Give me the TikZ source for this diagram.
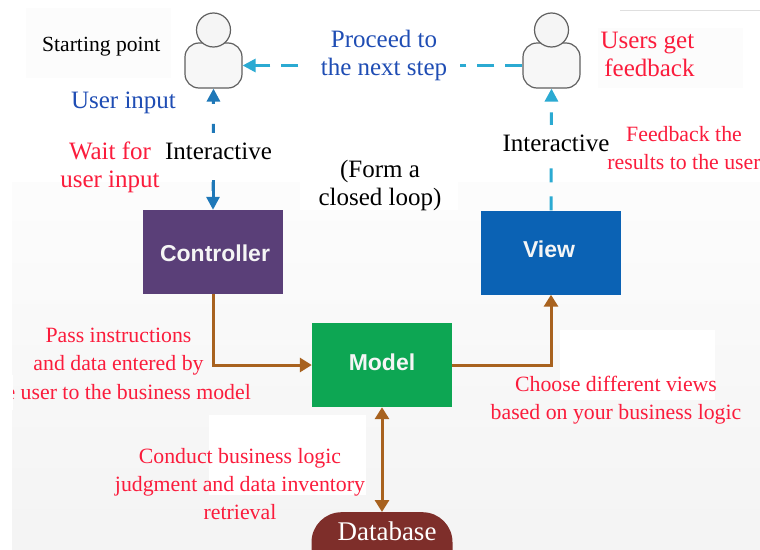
\documentclass[tikz,border=0pt]{standalone}
\usepackage{fontspec}
\setmainfont{Liberation Serif}
\setsansfont{Liberation Sans}
\usetikzlibrary{arrows.meta,positioning}
\definecolor{redtxt}{HTML}{FB1C3C}
\definecolor{bluetxt}{HTML}{1F4DB4}
\definecolor{brownln}{HTML}{A8621F}
\definecolor{tealln}{HTML}{2BAAD2}
\definecolor{blueln}{HTML}{1F78B8}
\definecolor{ctrlc}{HTML}{5A3F78}
\definecolor{viewc}{HTML}{0B62B4}
\definecolor{modelc}{HTML}{0DA653}
\definecolor{dbc}{HTML}{7E2E2A}
\tikzset{
  x=1pt,y=-1pt,
  lab/.style={font=\fontsize{25}{28}\selectfont,align=center,inner sep=0pt},
  labsm/.style={font=\fontsize{21.8}{28}\selectfont,align=center,inner sep=0pt},
  redlab/.style={text=redtxt},
  bluelab/.style={text=bluetxt},
  blocktitle/.style={font=\sffamily\bfseries\fontsize{23}{26}\selectfont,text=white!92!gray},
  mvc/.style={minimum width=140pt,minimum height=84pt,inner sep=0pt,draw=none},
  patch/.style={fill=white,draw=none},
  brownarrow/.style={draw=brownln,line width=3pt,-{Triangle[length=12pt,width=14pt]}},
  headc/.style={circle,minimum size=34pt,inner sep=0pt,draw=gray!75!black,line width=1.2pt,fill=gray!8},
  bodyc/.style={rounded corners=14pt,minimum width=57pt,minimum height=45pt,inner sep=0pt,draw=gray!75!black,line width=1.2pt,fill=gray!6},
  dashtl/.style={draw=tealln,line width=3pt,dash pattern=on 17pt off 11pt,-{Triangle[length=13pt,width=13pt]}},
  dashbl/.style={draw=blueln,line width=3pt,-{Triangle[length=13pt,width=13pt]}}
}
\begin{document}
\begin{tikzpicture}
\useasboundingbox (0,0) rectangle (760,549);
\fill[white] (0,0) rectangle (760,549);
\shade[top color=white!98!gray,bottom color=white!91!gray] (12,182) rectangle (760,549);
% lighter patches behind the labels
\fill[patch] (45,135) rectangle (300,182);
\fill[patch] (300,118) rectangle (458,210);
\fill[patch] (495,130) rectangle (760,176);
\fill[patch] (209,415) rectangle (366,495);
\fill[patch] (560,330) rectangle (715,400);
\fill[white!98!gray] (26,8) rectangle (171,78);
\fill[white!98!gray] (598,28) rectangle (743,88);
\draw[gray!25,line width=1pt] (620,10) -- (760,10);

% blocks
\node[mvc,fill=ctrlc] (ctrl) at (213,252) {};
\node[blocktitle] (ctrlt) at (215,253) {Controller};
\node[mvc,fill=viewc] (view) at (551,252.5) {};
\node[blocktitle] (viewt) at (549,249) {View};
\node[mvc,fill=modelc] (model) at (382,365) {};
\node[blocktitle] (modelt) at (382,362) {Model};
\node[minimum width=141pt,minimum height=76pt,rounded corners=30pt,inner sep=0pt,fill=dbc,anchor=north] (db) at (382,512) {};
\node[lab,text=white,font=\fontsize{27}{30}\selectfont,anchor=base] (dbt) at (387,540) {Database};

% users
\node[bodyc] (u1) at (213.5,65.5) {};
\node[headc] (h1) at (213.5,30) {};
\node[bodyc] (u2) at (551.5,65.5) {};
\node[headc] (h2) at (551.5,30) {};

% dashed connectors
\draw[dashtl] (u2.west) -- (u1.east);
\draw[dashtl,dash pattern=on 14pt off 14pt] (view.north) -- (u2.south);
\draw[dashbl,dash pattern=on 9pt off 20pt,dash phase=10pt] (ctrl.north) -- (u1.south);
\coordinate (cdown) at (213,180);
\draw[dashbl] (cdown) -- (ctrl.north);

% solid connectors
\coordinate (bendl) at (ctrl.south |- model.west);
\coordinate (bendr) at (view.south |- model.east);
\draw[brownarrow] (ctrl.south) -- (bendl) -- (model.west);
\draw[brownarrow] (model.east) -- (bendr) -- (view.south);
\draw[brownarrow,{Triangle[length=12pt,width=14pt]}-{Triangle[length=12pt,width=14pt]}] (model.south) -- (db.north);

% labels
\node[lab,anchor=west,font=\fontsize{21.6}{26}\selectfont] (start) at (42,47) {Starting point};
\node[lab,bluelab,fill=white,minimum width=152pt,minimum height=60pt] (proceed) at (384,55) {Proceed to\\the next step};
\node[lab,redlab,anchor=west] (getfb) at (600,54) {Users get\\\,feedback};
\node[lab,bluelab] (uinput) at (123.5,103) {User input};
\node[lab,redlab] (wait) at (110,167) {Wait for\\user input};
\node[lab,fill=white,inner xsep=3pt,minimum height=34pt] (int1) at (218.5,151) {Interactive};
\node[lab,fill=white,inner xsep=3pt,minimum height=36pt] (int2) at (556,143) {Interactive};
\node[labsm,redlab] (fbres) at (684,148) {Feedback the\\results to the user};
\node[lab] (loop) at (380,185) {(Form a\\closed loop)};
\node[labsm,redlab,anchor=east] (pass3) at (251,392) {the user to the business model};
\fill[white] (0,375) rectangle (13,410);
\node[labsm,redlab] (pass) at (118.5,352) {Pass instructions\\and data entered by};
\node[labsm,redlab] (views) at (616,400) {Choose different views\\based on your business logic};
\node[labsm,redlab] (logic) at (240,484) {Conduct business logic\\judgment and data inventory\\retrieval};
\end{tikzpicture}
\end{document}
